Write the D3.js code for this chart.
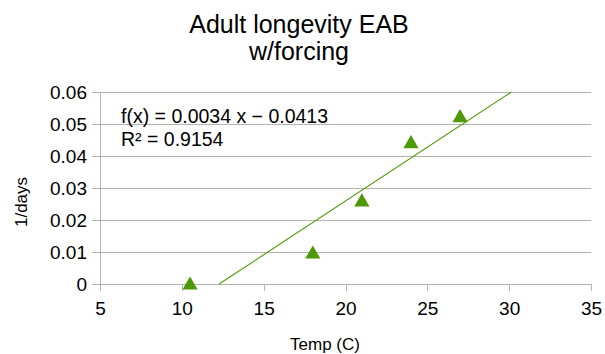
<!DOCTYPE html>
<html>
<head>
<meta charset="utf-8">
<script src="https://cdn.jsdelivr.net/npm/d3@7"></script>
<style>
  html, body { margin: 0; padding: 0; background: #fff; }
  svg { display: block; font-family: "Liberation Sans", Arial, sans-serif; }
</style>
</head>
<body>
<svg id="chart" width="605" height="354"></svg>
<script>
// Temperature (°C) and development rate (1/days)
const temps = [10.5, 18, 21, 24, 27];
const rates = [0, 0.0097, 0.026, 0.0442, 0.0523];

// Linear trend line coefficients
const slope = 0.00336;
const intercept = -0.04126;
const equationText = "f(x) = 0.0034 x \u2212 0.0413";
const r2Text = "R\u00b2 = 0.9154";

const xTicks = [5, 10, 15, 20, 25, 30, 35];
const yTicks = [0, 0.01, 0.02, 0.03, 0.04, 0.05, 0.06];

const titleLines = ["Adult longevity EAB", "w/forcing"];
const xTitle = "Temp (C)";
const yTitle = "1/days";

const svg = d3.select("#chart");
const plot = { left: 100, right: 591, top: 92, bottom: 284 };
const green = "#4e9a06";
const gridColor = "#b3b3b3";
const fontFamily = "Liberation Sans, Arial, sans-serif";

const x = d3.scaleLinear().domain([5, 35]).range([plot.left, plot.right]);
const y = d3.scaleLinear().domain([0, 0.06]).range([plot.bottom, plot.top]);

// Title
svg.append("text")
  .attr("text-anchor", "middle")
  .attr("font-size", 25)
  .attr("fill", "#000")
  .selectAll("tspan").data(titleLines).join("tspan")
  .attr("x", 299)
  .attr("y", (d, i) => 33 + i * 27)
  .text(d => d);

// Horizontal gridlines
svg.append("g").selectAll("line").data(yTicks).join("line")
  .attr("x1", plot.left).attr("x2", plot.right)
  .attr("y1", d => y(d)).attr("y2", d => y(d))
  .attr("stroke", gridColor).attr("stroke-width", 1)
  .attr("shape-rendering", "crispEdges");

// Y axis
const yAxis = svg.append("g")
  .attr("transform", `translate(${plot.left},0)`)
  .call(d3.axisLeft(y).tickValues(yTicks).tickSize(8).tickPadding(5)
    .tickFormat(d => d === 0 ? "0" : d3.format(".2f")(d)));
yAxis.select(".domain").attr("stroke", gridColor).attr("shape-rendering", "crispEdges");
yAxis.selectAll(".tick line").attr("stroke", gridColor).attr("shape-rendering", "crispEdges");
yAxis.selectAll("text").attr("font-size", 19).attr("fill", "#000")
  .attr("font-family", fontFamily);

// X axis
const xAxis = svg.append("g")
  .attr("transform", `translate(0,${plot.bottom})`)
  .call(d3.axisBottom(x).tickValues(xTicks).tickSize(7).tickPadding(0).tickFormat(d3.format("d")));
xAxis.select(".domain").attr("stroke", gridColor).attr("shape-rendering", "crispEdges");
xAxis.selectAll(".tick line").attr("stroke", gridColor).attr("shape-rendering", "crispEdges");
xAxis.selectAll("text").attr("font-size", 19).attr("fill", "#000")
  .attr("font-family", fontFamily)
  .attr("y", 31).attr("dy", null);

// Axis titles
svg.append("text")
  .attr("x", 325).attr("y", 350)
  .attr("text-anchor", "middle").attr("font-size", 17).attr("fill", "#000")
  .text(xTitle);
svg.append("text")
  .attr("transform", `translate(27,202) rotate(-90)`)
  .attr("text-anchor", "middle").attr("font-size", 17).attr("fill", "#000")
  .text(yTitle);

// Trend line, clipped to the plot's value range
const yMin = 0, yMax = 0.06;
const xStart = Math.max(5, (yMin - intercept) / slope);
const xEnd = Math.min(35, (yMax - intercept) / slope);
svg.append("line")
  .attr("x1", x(xStart)).attr("y1", y(slope * xStart + intercept))
  .attr("x2", x(xEnd)).attr("y2", y(slope * xEnd + intercept))
  .attr("stroke", green).attr("stroke-width", 1.1);

// Data points as triangles, box-centred on each value
const triSize = 100;
const triOffset = Math.sqrt(triSize / (Math.sqrt(3) * 3)) / 2 - 1;
const tri = d3.symbol().type(d3.symbolTriangle).size(triSize);
svg.append("g").selectAll("path").data(temps).join("path")
  .attr("d", tri)
  .attr("transform", (d, i) => `translate(${x(d)},${y(rates[i]) + triOffset})`)
  .attr("fill", green);

// Regression equation
svg.append("text")
  .attr("font-size", 19.5).attr("fill", "#000")
  .selectAll("tspan").data([equationText, r2Text]).join("tspan")
  .attr("x", 121)
  .attr("y", (d, i) => 123 + i * 23)
  .text(d => d);
</script>
</body>
</html>
